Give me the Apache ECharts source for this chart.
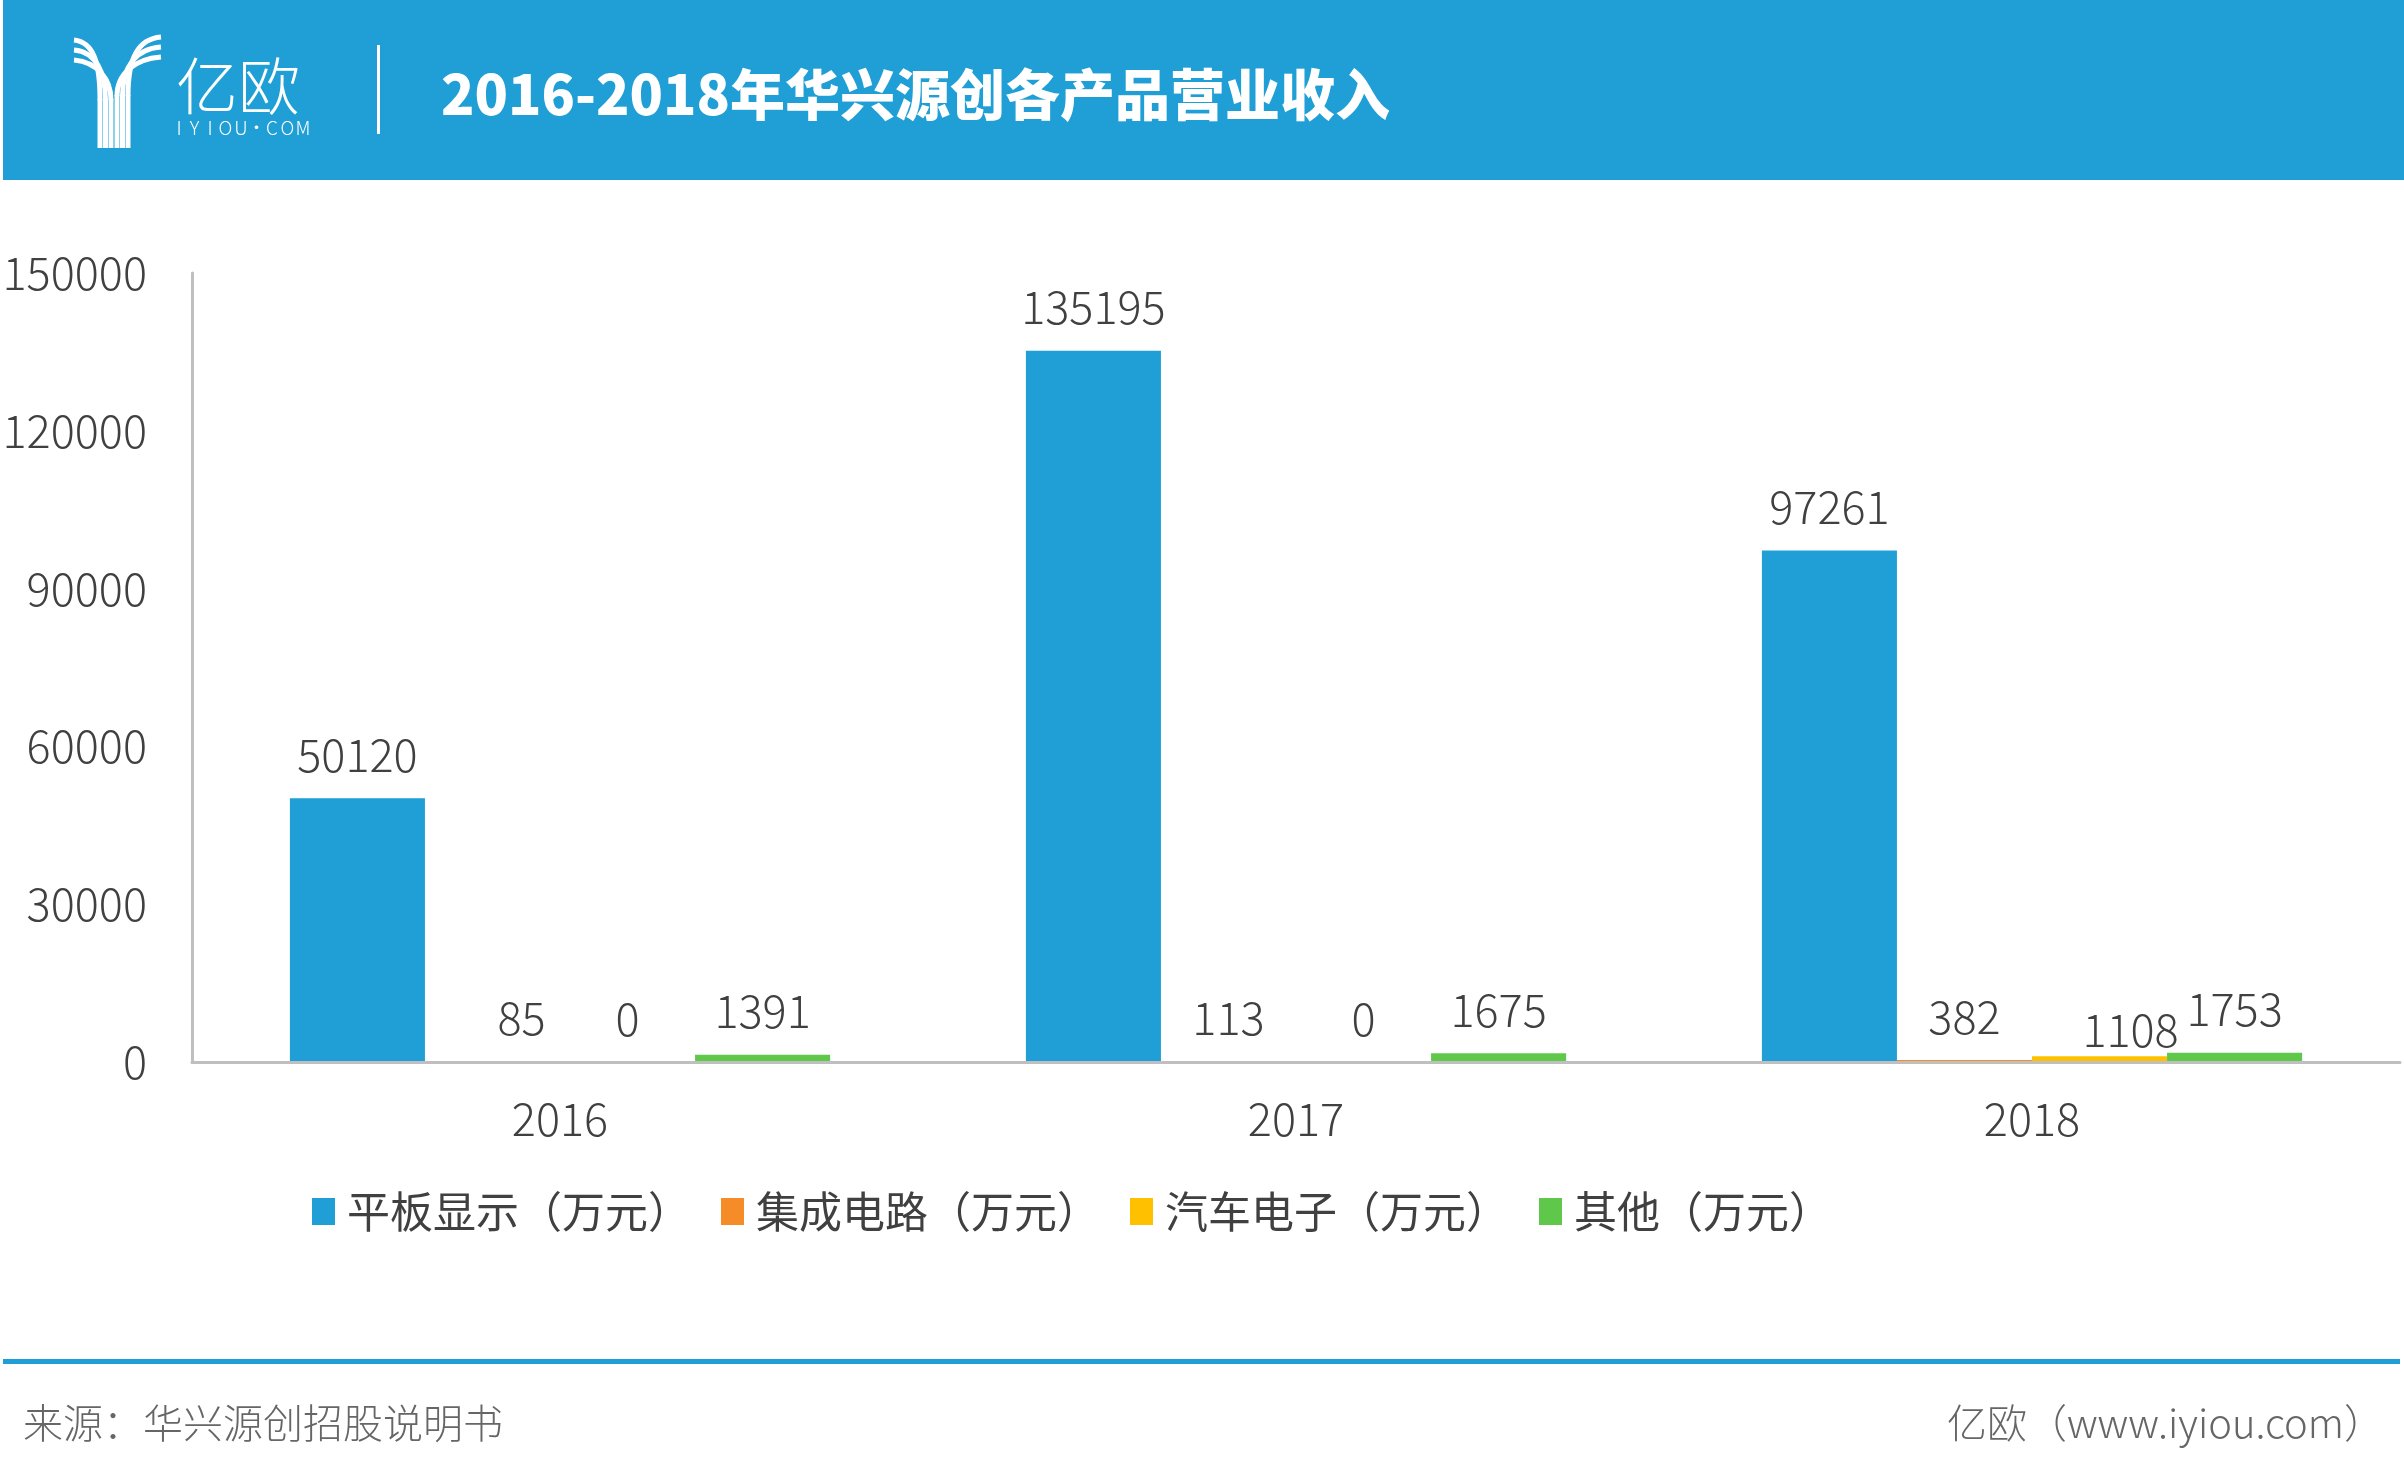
<!DOCTYPE html>
<html>
<head>
<meta charset="utf-8">
<script src="https://cdn.jsdelivr.net/npm/echarts@6/dist/echarts.min.js"></script>
<style>
html,body{margin:0;padding:0;background:#fff;}
#c{width:2404px;height:1480px;}
</style>
</head>
<body>
<div id="c"></div>
<script>
// ---- data ----
const titleText = '2016-2018年华兴源创各产品营业收入';
const categories = ['2016', '2017', '2018'];
const seriesNames = ['平板显示（万元）', '集成电路（万元）', '汽车电子（万元）', '其他（万元）'];
const flatPanel = [50120, 135195, 97261];
const integratedCircuit = [85, 113, 382];
const autoElectronics = [0, 0, 1108];
const others = [1391, 1675, 1753];
const yTicks = [0, 30000, 60000, 90000, 120000, 150000];
const sourceText = '来源：华兴源创招股说明书';
const siteText = '亿欧（www.iyiou.com）';

// ---- style ----
const BLUE = '#1F9FD5';
const colors = [BLUE, '#F58C28', '#FFC000', '#5FC84B'];
const numFont = "'Noto Sans CJK SC', sans-serif";
const cjkFont = "'Noto Sans CJK SC', sans-serif";
const TXT = '#404040';
const NUM_SIZE = 45;

const chart = echarts.init(document.getElementById('c'));

const allValues = [flatPanel, integratedCircuit, autoElectronics, others];
// label nudges present in the original artwork (series index, category index) -> offset
const labelNudges = { '1-0': [29, 0], '2-2': [31, 17] };

function makeSeries(idx) {
  const vals = allValues[idx];
  const data = vals.map((v, i) => {
    const nudge = labelNudges[idx + '-' + i];
    return nudge ? { value: v, label: { offset: nudge } } : v;
  });
  return {
    name: seriesNames[idx],
    type: 'bar',
    data: data,
    barGap: '0%',
    barCategoryGap: '26.6%',
    itemStyle: { color: colors[idx] },
    label: {
      show: true,
      position: 'top',
      distance: 21,
      fontFamily: numFont,
      fontWeight: 300,
      fontSize: NUM_SIZE,
      color: TXT
    }
  };
}

// logo stripes
const logoShapes = [];
const stroke = { stroke: '#fff', lineWidth: 5, fill: null };
for (let i = 0; i < 3; i++) {
  const sx = 100 + 5.5 * i;
  logoShapes.push({
    type: 'bezierCurve',
    shape: { x1: 74, y1: 40 + 10 * i, cpx1: 94 + 2 * i, cpy1: 42 + 10 * i, cpx2: sx, cpy2: 64 + 8 * i, x2: sx, y2: 100 },
    style: stroke
  });
  logoShapes.push({ type: 'line', shape: { x1: sx, y1: 99, x2: sx, y2: 148 }, style: stroke });
  const rx = 128 - 5.5 * i;
  logoShapes.push({
    type: 'bezierCurve',
    shape: { x1: 161, y1: 37 + 10 * i, cpx1: 138 - 2 * i, cpy1: 39 + 10 * i, cpx2: rx, cpy2: 58 + 8 * i, x2: rx, y2: 96 },
    style: stroke
  });
  logoShapes.push({ type: 'line', shape: { x1: rx, y1: 95, x2: rx, y2: 148 }, style: stroke });
}
const logoSub = 'IYIOU·COM'.split('').map((ch, i) => ({
  type: 'text',
  x: 179 + i * 15.5,
  y: 128,
  style: { text: ch, fill: '#fff', font: `300 19px ${cjkFont}`, textAlign: 'center', textVerticalAlign: 'middle' }
}));

chart.setOption({
  animation: false,
  backgroundColor: '#fff',
  color: colors,
  grid: { left: 192, right: 4, top: 273, bottom: 418, containLabel: false, outerBoundsMode: 'none' },
  legend: {
    data: seriesNames,
    left: 307,
    top: 1185,
    icon: 'rect',
    itemWidth: 23,
    itemHeight: 27,
    itemGap: 30,
    textStyle: { fontFamily: cjkFont, fontSize: 43, color: TXT, padding: [0, 0, 0, 7] }
  },
  xAxis: {
    type: 'category',
    data: categories,
    z: 5,
    axisLine: { lineStyle: { color: '#BFBFBF', width: 3 } },
    axisTick: { show: false },
    axisLabel: { fontFamily: numFont, fontWeight: 300, fontSize: NUM_SIZE, color: TXT, margin: 34 }
  },
  yAxis: {
    type: 'value',
    min: yTicks[0],
    max: yTicks[yTicks.length - 1],
    interval: yTicks[1] - yTicks[0],
    axisLine: { show: true, lineStyle: { color: '#BFBFBF', width: 3 } },
    axisTick: { show: false },
    splitLine: { show: false },
    axisLabel: {
      fontFamily: numFont, fontWeight: 300, fontSize: NUM_SIZE, color: TXT, margin: 45,
      formatter: v => String(v)
    }
  },
  series: [0, 1, 2, 3].map(makeSeries),
  graphic: [
    { type: 'rect', shape: { x: 3, y: 0, width: 2401, height: 180 }, style: { fill: BLUE }, z: 0 },
    ...logoShapes,
    { type: 'text', x: 238, y: 86, style: { text: '亿欧', fill: '#fff', font: `300 62px ${cjkFont}`, textAlign: 'center', textVerticalAlign: 'middle' } },
    ...logoSub,
    { type: 'rect', shape: { x: 377, y: 45, width: 3, height: 89 }, style: { fill: '#fff' } },
    { type: 'text', x: 441, y: 94, style: { text: titleText, fill: '#fff', font: `900 55px ${cjkFont}`, textAlign: 'left', textVerticalAlign: 'middle' } },
    { type: 'rect', shape: { x: 3, y: 1359, width: 2397, height: 5 }, style: { fill: BLUE } },
    { type: 'text', x: 23, y: 1423, style: { text: sourceText, fill: '#666666', font: `300 40px ${cjkFont}`, textAlign: 'left', textVerticalAlign: 'middle' } },
    { type: 'text', x: 2384, y: 1423, style: { text: siteText, fill: '#666666', font: `300 40px ${cjkFont}`, textAlign: 'right', textVerticalAlign: 'middle' } }
  ]
});
</script>
</body>
</html>
